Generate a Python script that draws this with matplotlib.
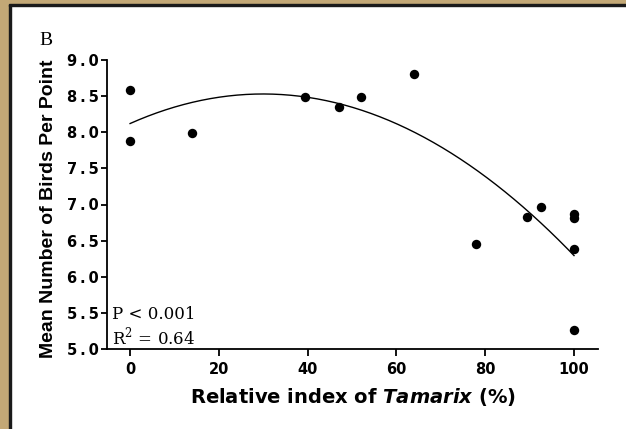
import numpy as np
import matplotlib.pyplot as plt
from matplotlib.patches import Rectangle

# relative index of Tamarix (%) and mean birds per point
tamarix = [0, 0, 14, 39.5, 47, 52, 64, 78, 89.5, 92.5, 100, 100, 100, 100]
birds = [8.59, 7.88, 7.99, 8.49, 8.35, 8.49, 8.81, 6.45, 6.83, 6.96, 6.87, 6.81, 6.38, 5.26]

x_ticks = [0, 20, 40, 60, 80, 100]
y_ticks = [5.0, 5.5, 6.0, 6.5, 7.0, 7.5, 8.0, 8.5, 9.0]

plt.rcParams["mathtext.fontset"] = "custom"
plt.rcParams["mathtext.it"] = "DejaVu Sans:style=italic:weight=bold"
plt.rcParams["mathtext.rm"] = "DejaVu Serif"

W, H = 626, 429
fig = plt.figure(figsize=(W / 100, H / 100), dpi=100)

# tan frame on top and left edges
tan = "#c3a876"
fig.patches.append(Rectangle((0, 0), 9 / W, 1, transform=fig.transFigure, color=tan, zorder=0))
fig.patches.append(Rectangle((9 / W, 0), 2 / W, 1 - 4 / H, transform=fig.transFigure, color="#1a1a1a", zorder=0))
fig.patches.append(Rectangle((0, 1 - 4 / H), 1, 4 / H, transform=fig.transFigure, color=tan, zorder=0))
fig.patches.append(Rectangle((9 / W, 1 - 6 / H), 1, 2 / H, transform=fig.transFigure, color="#1a1a1a", zorder=0))

ax = fig.add_axes([107 / W, 1 - 349 / H, (598 - 107) / W, (349 - 60) / H])

ax.scatter(tamarix, birds, s=46, color="black", zorder=3, linewidths=0)

# quadratic fit
coef = np.polyfit(tamarix, birds, 2)
xs = np.linspace(0, 100, 200)
ax.plot(xs, np.polyval(coef, xs), color="black", lw=1.0)

ax.set_xlim(-5.2, 105.4)
ax.set_ylim(5.0, 9.0)
ax.set_xticks(x_ticks)
ax.set_yticks(y_ticks)
ax.set_yticklabels([f"{v:.1f}".replace(".", "\u2009.\u2009") for v in y_ticks])
ax.spines["top"].set_visible(False)
ax.spines["right"].set_visible(False)
ax.spines["left"].set_linewidth(1.3)
ax.spines["bottom"].set_linewidth(1.3)
ax.tick_params(direction="out", width=1.3, labelsize=10.5)
ax.tick_params(axis="x", length=5, pad=4)
ax.tick_params(axis="y", length=4, pad=2)
for lab in ax.get_xticklabels() + ax.get_yticklabels():
    lab.set_fontweight("bold")
    lab.set_family("DejaVu Sans")

ax.set_ylabel("Mean Number of Birds Per Point", fontsize=14, fontweight="bold",
              family="Liberation Sans")
ax.yaxis.set_label_coords(-0.102, 0.487)
ax.set_xlabel(r"Relative index of $\mathit{Tamarix}$ (%)",
              fontsize=14, fontweight="bold", family="DejaVu Sans", labelpad=7)

ax.text(0.01, 0.104, "P < 0.001", transform=ax.transAxes, family="DejaVu Serif",
        fontsize=12, va="baseline")
ax.text(0.01, 0.017, r"R$^{2}$ = 0.64", transform=ax.transAxes, family="DejaVu Serif",
        fontsize=12, va="baseline")
fig.text(39 / W, 1 - 45 / H, "B", family="Liberation Serif", fontsize=14, va="baseline")

fig.savefig("out.png", dpi=100)
